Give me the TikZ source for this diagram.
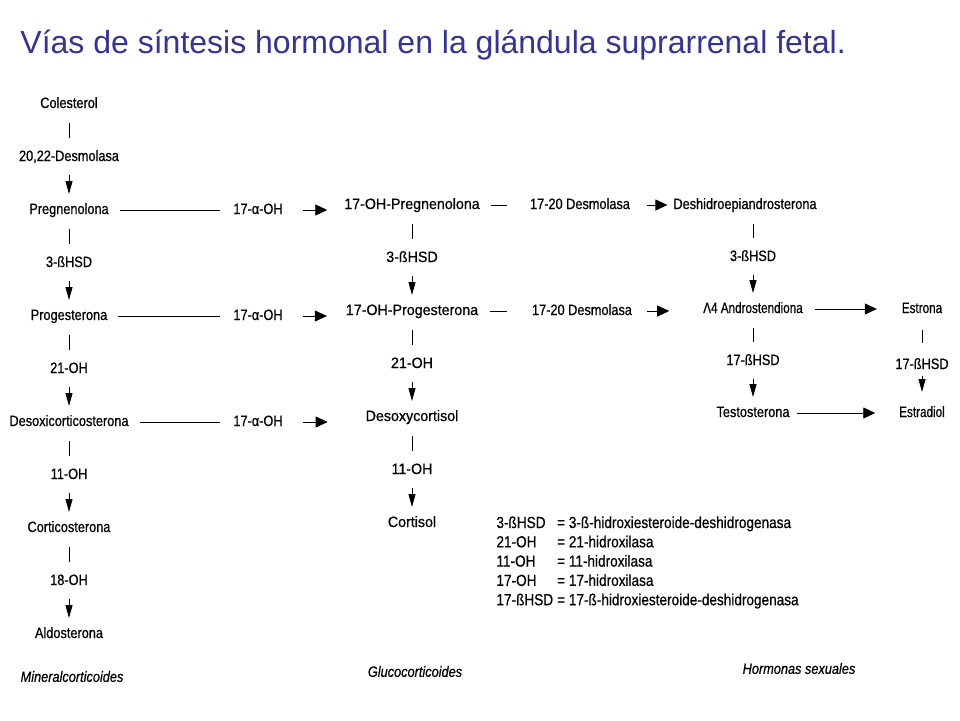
\documentclass[tikz,border=0pt]{standalone}
\usepackage{fontspec}
\setmainfont{Liberation Sans}
\newfontfamily\narrowsf[FakeStretch=0.85,FakeBold=0.6]{Liberation Sans}
\newfontfamily\widersf[FakeStretch=0.95,FakeBold=0.6]{Liberation Sans}
\newfontfamily\tightsf[FakeStretch=0.78,FakeBold=0.6]{Liberation Sans}
\usetikzlibrary{positioning}
\usetikzlibrary{arrows.meta}
\definecolor{titleblue}{RGB}{51,51,153}

\begin{document}
\begin{tikzpicture}[x=1pt,y=-1pt,line width=0.9pt,
	chem/.style={inner sep=3pt,outer sep=0pt,text height=11pt,text depth=3pt,font=\narrowsf\fontsize{15}{18}\selectfont},
	colb/.style={font=\widersf\fontsize{15}{18}\selectfont},
	tight/.style={font=\tightsf\fontsize{15}{18}\selectfont},
	group/.style={inner sep=0pt,font=\narrowsf\itshape\fontsize{15}{18}\selectfont},
	bar/.style={shorten <=9pt,shorten >=9pt},
	down/.style={-{Triangle[length=13pt,width=7pt]},shorten <=8pt,shorten >=6pt},
	link/.style={shorten <=8pt,shorten >=10pt},
	across/.style={-{Triangle[length=12pt,width=11pt]}}]
	\useasboundingbox (0,0) rectangle (960,720);

	\node [anchor=base west,inner sep=0pt,text=titleblue,font=\fontsize{32}{38}\selectfont] at (20,53.5) (title) {Vías de síntesis hormonal en la glándula suprarrenal fetal.};

	% mineralcorticoides
	\node [chem] at (69,104) (colesterol) {Colesterol};
	\node [chem,below=33pt of colesterol] (desmo2022) {20,22-Desmolasa};
	\node [chem,below=33pt of desmo2022] (pregnen) {Pregnenolona};
	\node [chem,below=33pt of pregnen] (hsd3_a) {3-ßHSD};
	\node [chem,below=33pt of hsd3_a] (proges) {Progesterona};
	\node [chem,below=33pt of proges] (oh21_a) {21-OH};
	\node [chem,below=33pt of oh21_a] (doc) {Desoxicorticosterona};
	\node [chem,below=33pt of doc] (oh11_a) {11-OH};
	\node [chem,below=33pt of oh11_a] (cortico) {Corticosterona};
	\node [chem,below=33pt of cortico] (oh18) {18-OH};
	\node [chem,below=33pt of oh18] (aldo) {Aldosterona};
	\node [group] at (72,676.5) (mineral) {Mineralcorticoides};

	% glucocorticoides
	\node [chem,colb] at (412,205) (ohpreg) {17-OH-Pregnenolona};
	\node [chem,colb,below=33pt of ohpreg] (hsd3_b) {3-ßHSD};
	\node [chem,colb,below=33pt of hsd3_b] (ohproges) {17-OH-Progesterona};
	\node [chem,colb,below=33pt of ohproges] (oh21_b) {21-OH};
	\node [chem,colb,below=33pt of oh21_b] (desoxcort) {Desoxycortisol};
	\node [chem,colb,below=33pt of desoxcort] (oh11_b) {11-OH};
	\node [chem,colb,below=33pt of oh11_b] (cortisol) {Cortisol};
	\node [group] at (415,671.5) (gluco) {Glucocorticoides};

	% hormonas sexuales
	\node [chem] at (745,205) (dhea) {Deshidroepiandrosterona};
	\node [chem,below=32pt of dhea,xshift=8pt] (hsd3_c) {3-ßHSD};
	\node [chem,tight,below=32pt of hsd3_c] (andro) {Λ4 Androstendiona};
	\node [chem,below=32pt of andro] (hsd17_c) {17-ßHSD};
	\node [chem,below=32pt of hsd17_c] (testost) {Testosterona};
	\node [chem,tight] at (922,0 |- andro) (estrona) {Estrona};
	\node [chem,below=36pt of estrona] (hsd17_d) {17-ßHSD};
	\node [chem,tight] at (922,0 |- testost) (estradiol) {Estradiol};
	\node [group] at (799,668.5) (sexual) {Hormonas sexuales};

	% enzimas entre columnas
	\node [chem] at (258,0 |- pregnen) (oha_1) {17-α-OH};
	\node [chem] at (258,0 |- proges) (oha_2) {17-α-OH};
	\node [chem] at (258,0 |- doc) (oha_3) {17-α-OH};
	\node [chem] at (580,0 |- ohpreg) (desm1720_1) {17-20 Desmolasa};
	\node [chem] at (582,0 |- ohproges) (desm1720_2) {17-20 Desmolasa};

	% abreviaturas
	\node [anchor=base west,inner sep=0pt,font=\narrowsf\fontsize{16}{19.3}\selectfont] at (496,528) (legend) {%
		\begin{tabular}[t]{@{}l@{\hspace{4pt}}l@{}}
			3-ßHSD & = 3-ß-hidroxiesteroide-deshidrogenasa\\
			21-OH & = 21-hidroxilasa\\
			11-OH & = 11-hidroxilasa\\
			17-OH & = 17-hidroxilasa\\
			17-ßHSD & = 17-ß-hidroxiesteroide-deshidrogenasa
		\end{tabular}};

	\draw[bar] (colesterol) -- (desmo2022);
	\draw[down] (desmo2022) -- (pregnen);
	\draw[bar] (pregnen) -- (hsd3_a);
	\draw[down] (hsd3_a) -- (proges);
	\draw[bar] (proges) -- (oh21_a);
	\draw[down] (oh21_a) -- (doc);
	\draw[bar] (doc) -- (oh11_a);
	\draw[down] (oh11_a) -- (cortico);
	\draw[bar] (cortico) -- (oh18);
	\draw[down] (oh18) -- (aldo);

	\draw[bar] (ohpreg) -- (hsd3_b);
	\draw[down] (hsd3_b) -- (ohproges);
	\draw[bar] (ohproges) -- (oh21_b);
	\draw[down] (oh21_b) -- (desoxcort);
	\draw[bar] (desoxcort) -- (oh11_b);
	\draw[down] (oh11_b) -- (cortisol);

	\draw[bar] (hsd3_c|-dhea.south) -- (hsd3_c.north);
	\draw[down] (hsd3_c) -- (andro);
	\draw[bar] (andro) -- (hsd17_c);
	\draw[down] (hsd17_c) -- (testost);

	\draw[bar,shorten <=11pt,shorten >=12pt] (estrona) -- (hsd17_d);
	\draw[down,shorten <=1pt,shorten >=11pt] (hsd17_d) -- (estradiol);

	\draw[link] (pregnen) -- (oha_1);
	\draw[link] (proges) -- (oha_2);
	\draw[link] (doc) -- (oha_3);
	\draw[across,shorten <=17pt,shorten >=14pt] (oha_1.east) -- (oha_1.east-|ohpreg.west);
	\draw[across,shorten <=17pt,shorten >=16pt] (oha_2.east) -- (oha_2.east-|ohproges.west);
	\draw[across,shorten <=17pt,shorten >=35pt] (oha_3.east) -- (oha_3.east-|desoxcort.west);

	\draw[shorten <=8pt,shorten >=20pt] (ohpreg) -- (desm1720_1);
	\draw[shorten <=9pt,shorten >=22pt] (ohproges) -- (desm1720_2);
	\draw[across,shorten <=14pt,shorten >=3pt] (desm1720_1) -- (dhea);
	\draw[across,shorten <=12pt,shorten >=31pt] (desm1720_2.east) -- (desm1720_2.east-|andro.west);

	\draw[across,shorten <=9pt,shorten >=22pt] (andro) -- (estrona);
	\draw[across,shorten <=4pt,shorten >=21pt] (testost) -- (estradiol);
\end{tikzpicture}
\end{document}
